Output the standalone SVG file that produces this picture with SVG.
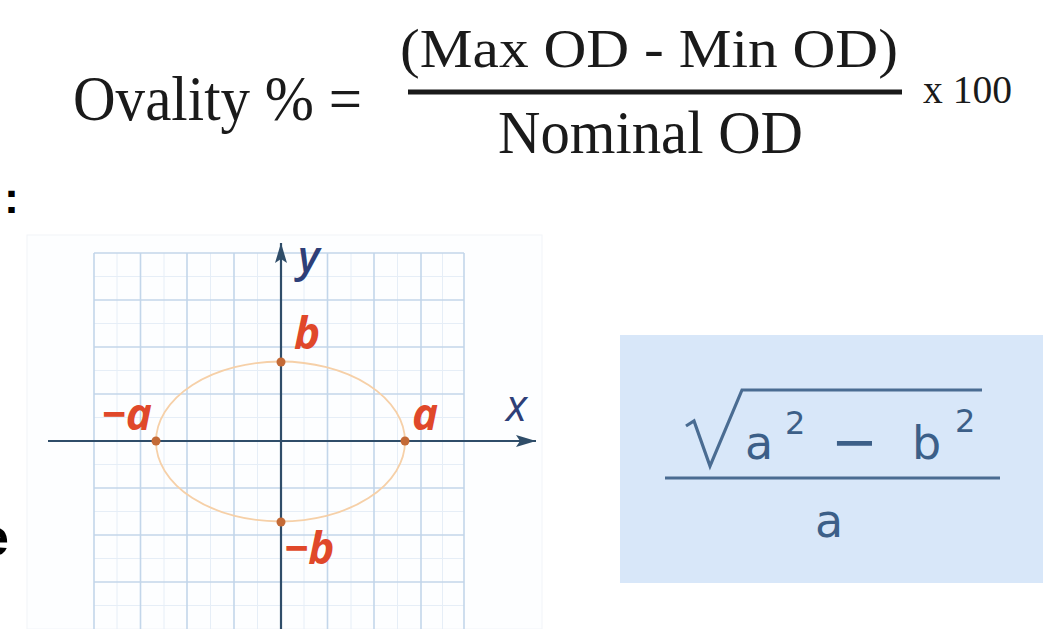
<svg xmlns="http://www.w3.org/2000/svg" width="1043" height="629" viewBox="0 0 1043 629">
  <defs>
    <style>
      .tnr { font-family: "Liberation Serif", "Times New Roman", serif; fill: #1a1a1a; }
      .major { stroke: #c3d6ea; stroke-width: 1.6; fill: none; }
      .minor { stroke: #e6eef7; stroke-width: 1; fill: none; }
      .axis { stroke: #2f4d69; stroke-width: 2.2; fill: none; }
      .lbl { font-family: "Open Sans", "DejaVu Sans", sans-serif; font-style: italic; font-weight: 700; font-size: 44px; fill: #e0482a; }
      .axlbl { font-family: "Open Sans", "DejaVu Sans", sans-serif; font-style: italic; font-size: 44px; fill: #2e3f78; }
      .pt { fill: #c46a36; }
      .math { font-family: "DejaVu Sans", Verdana, sans-serif; fill: #3c5f88; }
      .mline { stroke: #4a6c92; fill: none; }
    </style>
    <marker id="arr" viewBox="0 0 20 12" refX="20" refY="6" markerWidth="20" markerHeight="12" markerUnits="userSpaceOnUse" orient="auto">
      <path d="M0,0 L20,6 L0,12 L4,6 Z" fill="#2f4d69"/>
    </marker>
  </defs>

  <rect width="1043" height="629" fill="#ffffff"/>

  <!-- top formula -->
  <g id="formula">
    <text class="tnr" x="73" y="120" font-size="63" textLength="289" lengthAdjust="spacingAndGlyphs">Ovality % =</text>
    <text class="tnr" x="400" y="67" font-size="55" textLength="498" lengthAdjust="spacingAndGlyphs">(Max OD - Min OD)</text>
    <line x1="408" y1="92" x2="902" y2="92" stroke="#1a1a1a" stroke-width="5"/>
    <text class="tnr" x="498" y="153" font-size="61" textLength="305" lengthAdjust="spacingAndGlyphs">Nominal OD</text>
    <text class="tnr" x="923" y="103" font-size="40" fill="#3a3a3a" textLength="89" lengthAdjust="spacingAndGlyphs">x 100</text>
  </g>

  <!-- cropped slide text fragments at left edge -->
  <g id="edge-text">
    <text x="4" y="213" font-family="Liberation Sans, Arial, sans-serif" font-weight="700" font-size="45" fill="#000">:</text>
    <text x="9" y="555" text-anchor="end" font-family="Liberation Sans, Arial, sans-serif" font-weight="700" font-size="52" fill="#000">e</text>
  </g>

  <!-- ellipse chart -->
  <g id="chart">
    <rect x="27" y="235" width="515" height="394" fill="#fdfeff" stroke="#f1f4f8" stroke-width="1"/>
    <g id="grid-minor">
      <path class="minor" d="M117,253V629 M164,253V629 M210.5,253V629 M257.5,253V629 M304,253V629 M351,253V629 M397.5,253V629 M442.5,253V629
                            M94,276.5H464 M94,323.5H464 M94,370.5H464 M94,417.5H464 M94,464.5H464 M94,511.5H464 M94,558.5H464 M94,605.5H464"/>
    </g>
    <g id="grid-major">
      <path class="major" d="M94,253V629 M140.5,253V629 M187,253V629 M234,253V629 M327.5,253V629 M374,253V629 M421,253V629 M464,253V629
                            M94,253H464 M94,300H464 M94,347H464 M94,394H464 M94,488H464 M94,535H464 M94,582H464"/>
    </g>
    <g id="axes">
      <line class="axis" x1="48" y1="441" x2="536" y2="441" marker-end="url(#arr)"/>
      <line class="axis" x1="281" y1="629" x2="281" y2="243" marker-end="url(#arr)"/>
      <text class="axlbl" x="506" y="421" font-size="38" fill="#3b4c6c">x</text>
      <text class="axlbl" x="298" y="272" font-weight="600">y</text>
    </g>
    <ellipse id="ellipse" cx="280.5" cy="441.5" rx="124.5" ry="80" fill="none" stroke="#f6d0a8" stroke-width="1.8"/>
    <g id="vertices">
      <circle class="pt" cx="156" cy="441" r="4.5"/>
      <circle class="pt" cx="405" cy="441" r="4.5"/>
      <circle class="pt" cx="281" cy="362" r="4.5"/>
      <circle class="pt" cx="281" cy="522" r="4.5"/>
    </g>
    <g id="labels">
      <text class="lbl" x="152" y="430" text-anchor="end">−a</text>
      <text class="lbl" x="412" y="430">a</text>
      <text class="lbl" x="294" y="349">b</text>
      <text class="lbl" x="284" y="564">−b</text>
    </g>
  </g>

  <!-- eccentricity box -->
  <g id="ecc-box">
    <rect x="620" y="335" width="423" height="248" fill="#d8e7f9"/>
    <path class="mline" stroke-width="3.2" stroke-linejoin="miter" d="M686,426 L694,421 L710,466 L742,390 L982,390"/>
    <text class="math" x="745" y="459" font-size="46">a</text>
    <text class="math" x="785" y="434" font-size="32">2</text>
    <text class="math" x="831" y="461" font-size="56">−</text>
    <text class="math" x="912" y="459" font-size="46">b</text>
    <text class="math" x="955" y="432" font-size="32">2</text>
    <line class="mline" x1="665" y1="478" x2="1000" y2="478" stroke-width="3"/>
    <text class="math" x="815" y="537" font-size="46">a</text>
  </g>
</svg>
